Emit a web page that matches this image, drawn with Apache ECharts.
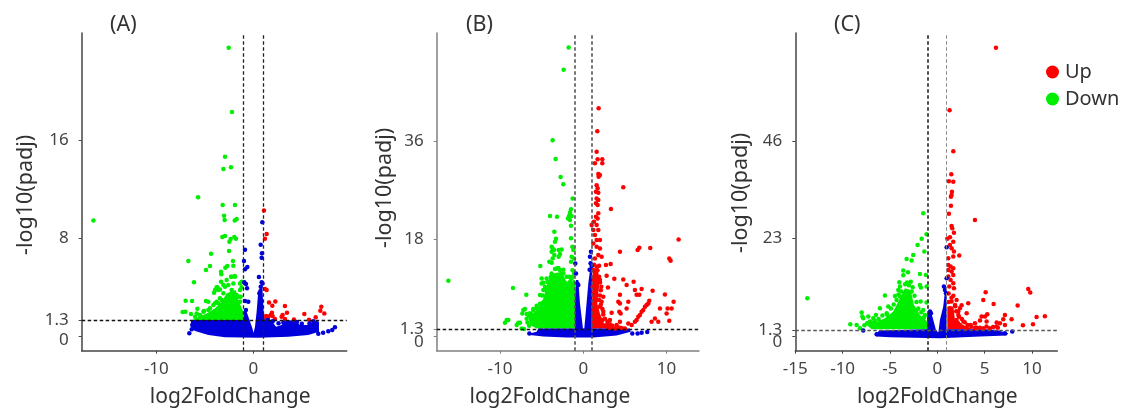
<!DOCTYPE html>
<html><head><meta charset="utf-8">
<script src="https://cdn.jsdelivr.net/npm/echarts@6/dist/echarts.min.js"></script>
<style>html,body{margin:0;padding:0;background:#fff}#c{width:1126px;height:408px}</style>
</head><body><div id="c"></div>
<script>
// ---- tick labels ----
const panelNames = ['(A)','(B)','(C)'];
const xTicksA = [-10,0];
const xTicksB = [-10,0,10];
const xTicksC = [-15,-10,-5,0,5,10];
const yTicksA = [8,0,1.3,16];
const yTicksB = [18,0,1.3,36];
const yTicksC = [23,0,1.3,46];
const foldCut = [-1,1];
const padjCut = 1.3;

// ---- panel A: single points ----
const downA = [[-2.54,23.57],[-2.2,18.31],[-2.92,14.66],[-2.3,13.79],[-3.09,13.65],[-5.7,11.34],[-3.16,10.71],[-1.89,10.71],[-3.02,9.84],[-2.96,9.48],[-1.72,9.56],[-1.92,9.45],[-16.49,9.45],[-3.2,8.09],[-2.92,8.17],[-1.96,8.09],[-1.79,7.96],[-2.34,7.93],[-2.47,7.71],[-2.51,6.95],[-4.36,6.73],[-6.7,6.13],[-2.1,6.13],[-4.47,5.72],[-4.88,5.4],[-2.68,5.72],[-2.89,5.59],[-2.06,5.75],[-3.33,5.26],[-3.3,5.04],[-2.3,4.85],[-1.92,4.9],[-6.12,4.39],[-6.98,2.89],[-6.32,2.86],[-7.29,1.96],[-7.01,1.99],[-6.43,1.8],[-5.77,2.23],[-5.84,1.85],[-6.01,1.58],[-4.88,2.86],[-4.64,2.81],[-5.09,2.04],[-3.71,3.98],[-3.95,3.76],[-3.61,3.76],[-4.05,3.54],[-3.33,4.44],[-3.09,4.17],[-1.2,4.44],[-1.2,3.98],[-2.23,4.85],[-2.75,4.58],[-1.72,3.35],[-1.31,3.22],[-3.44,3.08],[-3.78,2.81],[-4.47,2.26],[-4.12,2.53],[-3.61,2.67],[-2.58,4.17],[-2.06,4.3],[-1.89,4.85],[-3.78,3.98],[-3.44,3.81],[-2.92,4.03],[-1.37,3.76],[-1.37,4.3],[-2.23,3.76],[-3.09,3.49],[-3.26,2.94],[-3.95,2.67],[-4.64,2.13],[-5.15,1.99],[-5.5,1.72],[-1.55,3.22],[-1.37,2.81]];
const upA = [[1.1,10.27],[1.37,8.34],[1.2,7.96],[1.2,3.84],[1.37,3.76],[1.62,2.75],[2.27,2.83],[1.96,2.48],[3.26,2.45],[3.47,1.91],[3.02,1.72],[2.92,1.58],[7.01,2.4],[6.91,2.07],[7.32,1.85],[5.26,1.8],[6.43,1.53],[5.74,1.34],[4.19,1.36],[1.92,1.91],[1.79,1.72],[1.55,1.58],[1.31,1.63],[1.99,1.63],[2.23,1.39],[3.26,1.39],[1.37,1.44]];
const otherA = [[0.93,9.29],[0.76,7.47],[-0.86,7.06],[0.89,6.76],[0.86,6.4],[-0.96,6.13],[-0.62,5.64],[-0.86,5.45],[0.58,4.82],[-0.93,4.39],[-0.76,4.25],[0.86,4.39],[0.95,4.3],[-0.65,3.9],[0.76,4.03],[-0.86,2.86],[-0.52,2.81],[0.62,3.49],[-0.76,2.13],[6.7,0.19],[7.2,0.27],[7.73,0.38],[8.14,0.49],[8.42,0.71],[-6.6,0.22],[-6.35,0.55],[2,1.2],[2.6,1.05],[3.1,1.1],[4.5,1.15],[5,1],[5.8,1.05],[6.2,1.2],[1.5,1.3],[-6.2,1.1],[-6.3,0.9],[-5.9,0.6]];
// ---- panel A: outlines of the solid clouds ----
const downCloudA = [[-1.03,1.31],[-1.03,1.99],[-1.55,2.94],[-1.82,3.76],[-2.75,3.49],[-3.26,2.81],[-3.95,2.26],[-4.81,1.85],[-5.67,1.58],[-6.29,1.31]];
const otherCloudA = [[-6.43,1.31],[-1.03,1.31],[-0.96,2.13],[-0.69,1.99],[-0.45,1.44],[-0.1,0.63],[0.03,0.27],[0.17,0.76],[0.34,1.99],[0.52,3.76],[0.93,4.03],[1.07,1.85],[1.2,1.31],[1.89,1.25],[2.34,0.76],[2.92,0.9],[3.44,1.31],[4.3,1.25],[4.81,0.9],[5.5,0.9],[6.53,1.25],[6.77,1.17],[6.77,0.35],[5.67,0.08],[3.61,-0.05],[0.52,-0.14],[-2.92,-0.11],[-4.64,0.08],[-6.01,0.41],[-6.36,0.71]];
const upCloudA = [];

// ---- panel B ----
const downB = [[-1.76,53.4],[-2.36,49.32],[-3.68,36.23],[-3.32,32.78],[-2.72,29.44],[-2.4,28.09],[-1.28,25.49],[-1.48,23.46],[-1.6,22.9],[-1.72,22.22],[-1.84,21.79],[-1.6,21.48],[-1.4,22.22],[-4,22.22],[-3.16,22.1],[-1.48,20.43],[-3.48,19.32],[-1.48,18.09],[-3.28,18.02],[-3.4,17.47],[-3.8,16.54],[-3.68,16.23],[-3.8,15.6],[-3.52,15.93],[-2.96,15.93],[-2.6,16.05],[-2.8,15.19],[-2.96,14.69],[-1.32,16.54],[-1.2,15.93],[-1.4,14.69],[-1.12,14.38],[-1.48,13.77],[-3.48,15],[-3.68,14.38],[-4.08,13.77],[-3.8,13.58],[-5.16,12.96],[-5,10.68],[-4.8,9.88],[-5,9.75],[-16.2,10.25],[-8.44,8.89],[-6.84,7.65],[-9.2,2.96],[-9,2.96],[-9.4,2.47],[-7.8,2.47],[-7.6,2.47],[-8,2.04],[-7.4,1.42],[-7.12,1.3],[-7.2,4.81],[-7,5],[-7.32,4.2],[-6.48,4.2],[-6.2,3.89],[-6.8,4.07],[-5.2,7.59],[-4.8,8.52],[-5.6,5.12],[-5,6.05],[-6,4.81],[-4.4,10.68],[-4.6,9.14],[-3.2,12.53],[-2.8,12.22],[-2.4,11.6],[-3.8,11.6],[-2,10.99],[-1.4,10.68],[-2,9.75],[-1.2,9.14],[-3.9,11],[-3.4,12.4],[-3,12.6],[-2.4,12.3],[-4.3,10],[-4.5,8.5],[-4.9,7.5],[-5.2,6],[-5.6,5.6],[-6,5],[-6.3,4.2],[-6.6,3.9],[-6.8,3.2],[-6.7,2.5],[-6.5,1.9],[-2,9.5],[-2.1,8.8],[-1.9,8],[-1.6,10],[-1.5,10.7],[-1.3,11],[-1.7,11],[-1.1,11.7],[-1.3,12.2]];
const upB = [[1.84,42.16],[1.68,37.9],[1.6,34.14],[2.28,32.72],[2.28,31.98],[1.72,32.72],[1.4,31.98],[1.8,30],[2,29.81],[1.84,29.5],[4.8,27.53],[1.6,27.9],[1.72,27.35],[1.52,26.73],[1.8,26.54],[1.6,25.49],[1.8,25.19],[1.52,24.57],[1.72,24.26],[3.32,23.52],[1.8,22.72],[1.52,22.1],[1.72,21.79],[1.28,21.17],[1,20.56],[1.6,20.56],[1.2,19.63],[1.8,19.63],[1.4,18.7],[2,17.78],[1.6,17.78],[1.2,17.16],[2,16.23],[1.6,16.54],[4.4,15.6],[6.52,15.93],[6.72,16.36],[8.04,16.3],[11.44,17.9],[10.32,14.38],[10.48,13.95],[2.2,14.69],[1.8,15],[1.4,14.38],[2.72,13.15],[3.28,13.33],[1.6,12.84],[1.2,12.22],[1.6,10.99],[1.28,10.37],[1.12,9.14],[1.6,9.14],[1.2,7.9],[2.8,11.17],[3.72,10.62],[4.8,10.49],[6.04,10.06],[5.2,9.44],[2.96,9.01],[2.16,9.14],[2,10.37],[6.2,8.52],[7,8.7],[8.32,8.4],[6.4,7.65],[6.72,7.65],[4.4,7.65],[9.8,7.72],[10.84,6.36],[10.12,5.12],[10.6,5.12],[9.2,5.12],[10,4.2],[10.32,2.84],[8.6,3.27],[9,2.65],[8.2,2.65],[4.2,6.36],[4.4,6.05],[5.4,6.36],[2.4,7.28],[2.2,6.36],[1.6,6.67],[2,5.43],[1.6,4.81],[2.4,4.51],[3.4,4.32],[4.32,4.51],[4.48,4.2],[5.2,5.12],[3.2,2.96],[3,2.04],[4,2.04],[3.8,1.42],[4.4,2.65],[5.4,2.35],[5,1.42],[5.8,2.04],[6.2,2.65],[6.6,3.58],[7,4.51],[7.4,5.43],[7.8,6.05],[7.92,6.54],[6.4,2.96],[6.8,3.89],[7.2,4.81],[7.6,5.74],[1.3,11],[1.9,11],[2,9.9],[2.1,8.5],[2,7.5],[1.9,6.7],[2.1,5.8],[2.3,5],[2.4,4],[2.6,3.2],[2.9,2.7],[3.2,2.2],[3.5,1.9],[2.3,3],[1.4,12],[1.7,12.2],[1.9,13],[1.3,13.2],[2.7,2],[3,1.6],[4.3,1.6],[4.6,1.5],[3.3,1.5]];
const otherB = [[0.92,15.6],[0.8,14.7],[0.88,13.5],[1,12.96],[0.76,12.3],[-0.96,13.46],[-0.88,11.6],[-0.72,9.75],[-0.6,9.44],[5.88,0.49],[6.52,0.49],[7,0.62],[7.68,0.74],[-6.48,0.49]];
const downCloudB = [[-5.6,1.42],[-6.4,2.04],[-6.6,3.58],[-5.6,4.81],[-4.8,6.98],[-4.2,10.37],[-3.6,11.6],[-2.6,11.9],[-2,10],[-1.8,9.4],[-1.2,10.37],[-1,10.37],[-1,1.42]];
const otherCloudB = [[-6.48,0.49],[-5.6,0.8],[-5.4,1.42],[-1,1.42],[-1,6.67],[-0.88,10.37],[-0.6,10.37],[-0.4,6.05],[-0.04,1.42],[0.12,1.42],[0.32,4.81],[0.6,9.75],[0.88,13.15],[1.05,13.15],[1.05,7.9],[1,1.42],[5.6,1.42],[5.68,0.8],[4,0.12],[1.2,-0.25],[-2,-0.25],[-4.8,-0.06],[-6.4,0.19]];
const upCloudB = [[1,1.42],[1.12,12.22],[1.8,11.9],[1.92,9.75],[1.68,6.05],[2,4.2],[2.48,2.35],[3.8,1.42]];

// ---- panel C ----
const downC = [[-13.73,8.9],[-1.48,28.98],[-1.13,24.02],[-1.65,22.99],[-2.08,21.5],[-1.37,19.92],[-2.54,19.13],[-3.24,18.19],[-2.71,17.8],[-3.59,15.43],[-3.59,14.33],[-3.1,15.04],[-1.83,14.65],[-1.2,14.41],[-4.01,12.68],[-1.83,12.05],[-1.73,11.42],[-1.13,11.65],[-3.94,11.65],[-4.12,10.87],[-5.53,9.53],[-4.47,9.45],[-3.94,9.29],[-1.76,8.11],[-1.13,7.87],[-6.06,6.54],[-6.48,4.96],[-5.18,6.93],[-5.35,5.35],[-7.99,5.51],[-7.92,4.57],[-7.82,4.17],[-7.29,4.57],[-6.76,4.17],[-7.11,3.39],[-6.58,2.99],[-9.19,2.76],[-8.52,2.6],[-8.17,1.81],[-1.48,6.14],[-1.3,4.96],[-2.18,6.14],[-2.6,11.5],[-3,12],[-3.4,12.2],[-3.8,10.5],[-4.1,9.8],[-4.3,8.5],[-4.6,7.4],[-4.9,6.5],[-5.3,5],[-5.8,4.8],[-6.2,4],[-6.6,3.6],[-7,3.2],[-7.4,3],[-7.7,2.5],[-2.4,9.5],[-2.2,8],[-2,6.5],[-1.7,5.6],[-1.4,4.4],[-2.7,10.5],[-3.2,12.6],[-2.8,12.8]];
const upC = [[6.2,68.11],[1.3,53.31],[1.69,43.62],[1.48,38.19],[1.23,36.54],[1.69,36.46],[1.55,34.09],[1.51,33.31],[1.44,32.91],[1.44,30.79],[1.23,28.9],[3.98,27.4],[1.51,25.98],[1.58,25.43],[1.76,24.41],[1.34,23.31],[1.06,22.99],[1.69,22.28],[1.34,21.5],[1.51,20.71],[1.76,19.92],[2.32,18.98],[1.16,18.35],[1.69,18.74],[1.16,16.77],[1.41,16.38],[1.69,15.98],[1.16,15.59],[1.51,15.2],[1.69,14.41],[1.16,14.02],[1.41,13.23],[1.69,12.44],[1.27,11.65],[1.76,11.26],[9.61,11.1],[9.82,10.24],[5.11,10.31],[4.86,8.5],[8.49,7.17],[5.95,7.56],[3.27,7.72],[2.57,7.24],[2.39,6.54],[2.22,5.75],[3.1,5.35],[11.37,4.65],[10.49,4.49],[10.11,2.76],[9.05,2.52],[7.15,4.96],[6.97,3.94],[7.85,3.94],[6.62,2.99],[6.27,3.15],[7.15,2.6],[5.28,5.12],[5.04,4.57],[4.68,4.57],[4.51,3.62],[5.21,3.39],[3.98,2.99],[3.52,2.6],[2.75,3.39],[2.39,2.6],[2.04,3.78],[2.22,4.96],[1.34,3.78],[6.27,2.2],[5.56,1.81],[4.86,1.81],[3.98,1.81],[3.1,1.81],[2.04,8.5],[1.51,8.11],[1.87,7.32],[1.34,6.54],[1.2,8],[1.9,7],[2,5.8],[2.3,4.5],[2.6,4],[2.9,3.2],[3.2,2.6],[3.6,2.2],[4.1,2],[4.5,1.9],[1.5,9],[1.2,10],[1.7,9.5],[2.2,3],[5.2,2.2],[5.9,2.1],[6.4,1.9]];
const otherC = [[0.99,20.94],[0.99,13.62],[0.7,11.65],[0.81,10.87],[0.92,10.08],[-0.77,5.75],[-0.67,5.35],[-7.82,1.26],[7.92,1.02],[7.15,0.63],[-6.41,0.39]];
const downCloudC = [[-1.06,1.57],[-1.06,3.39],[-1.83,4.96],[-2.46,7.32],[-2.82,10.87],[-3.42,11.26],[-3.94,8.9],[-4.65,5.75],[-5.53,4.17],[-6.76,2.99],[-7.46,2.6],[-6.94,1.57]];
const otherCloudC = [[-6.58,0.24],[-6.13,1.26],[-1.06,1.57],[-1.06,4.96],[-0.7,5.98],[-0.42,3.78],[-0.14,1.42],[0.11,0.79],[0.28,3.78],[0.63,6.93],[0.85,11.26],[1,11.65],[0.99,1.57],[5.21,1.57],[6.27,1.42],[7.5,0.63],[7.32,0.08],[4.51,-0.16],[0.28,-0.55],[-5,-0.31],[-6.41,-0.16]];
const upCloudC = [[1.06,1.57],[1.06,6.93],[1.7,6.93],[1.87,3.78],[2.75,2.6],[3.8,1.57]];

const RED='#ff0000', GREEN='#00ee00', BLUE='#0000dc';
const FONT='"Noto Sans","Open Sans",sans-serif';

const panels = [
 {x0:81.7,x1:346.7,xMin:-17.7,xMax:9.63,yMin:-1.2,yMax:24.77,xTicks:xTicksA,yTicks:yTicksA,down:downA,up:upA,other:otherA,dc:downCloudA,uc:upCloudA,oc:otherCloudA,axis:'#444',namePadX:[0,0,0,32],namePadY:[0,6,0,0],gapY:45,pad0:8,
  vStyle:[{color:'#222',width:1.3},{color:'#222',width:1.3}],hStyle:{color:'#111',width:1.4}},
 {x0:436.7,x1:699,xMin:-17.6,xMax:13.89,yMin:-2.7,yMax:56.1,xTicks:xTicksB,yTicks:yTicksB,down:downB,up:upB,other:otherB,dc:downCloudB,uc:upCloudB,oc:otherCloudB,axis:'#808080',namePadX:[0,36,0,0],namePadY:[0,0,0,8],gapY:37,pad0:12,
  vStyle:[{color:'#555',width:1.6},{color:'#555',width:1.6}],hStyle:{color:'#111',width:1.4}},
 {x0:795.3,x1:1057.3,xMin:-15,xMax:12.68,yMin:-3.5,yMax:71.6,xTicks:xTicksC,yTicks:yTicksC,down:downC,up:upC,other:otherC,dc:downCloudC,uc:upCloudC,oc:otherCloudC,axis:'#444',namePadX:[0,0,0,22],namePadY:[0,2,0,0],gapY:43,pad0:12,
  vStyle:[{color:'#222',width:1.6},{color:'#888',width:1}],hStyle:{color:'#555',width:1.3}}
];
const titlePos=[{left:110,top:14},{left:466,top:14},{left:834,top:14}];

function cloud(points,color,i){
  return {type:'custom',name:'cloud',xAxisIndex:i,yAxisIndex:i,data:points,z:2,silent:true,clip:false,
    encode:{x:0,y:1},
    renderItem:function(p,api){
      if(p.dataIndex!==0) return null;
      return {type:'polygon',shape:{points:points.map(q=>api.coord(q))},style:{fill:color}};
    }};
}
const grid=[],xAxis=[],yAxis=[],series=[],title=[];
panels.forEach((p,i)=>{
  grid.push({left:p.x0,width:p.x1-p.x0,top:33,height:317.7,outerBoundsMode:'none'});
  const line={lineStyle:{color:p.axis,width:1.5}};
  const labelFont={color:'#444',fontSize:17,fontFamily:FONT};
  xAxis.push({type:'value',gridIndex:i,min:p.xMin,max:p.xMax,splitLine:{show:false},axisLine:Object.assign({onZero:false},line),
    axisTick:{length:3,lineStyle:{color:p.axis},customValues:p.xTicks},
    axisLabel:Object.assign({customValues:p.xTicks,margin:10,showMinLabel:true,showMaxLabel:true},labelFont),
    name:'log2FoldChange',nameLocation:'middle',nameGap:36,nameTextStyle:{color:'#333',fontSize:21,fontFamily:FONT,padding:p.namePadX}});
  yAxis.push({type:'value',gridIndex:i,min:p.yMin,max:p.yMax,splitLine:{show:false},axisLine:Object.assign({onZero:false},line),
    axisTick:{length:3,lineStyle:{color:p.axis},customValues:p.yTicks},
    axisLabel:Object.assign({customValues:p.yTicks,margin:13,showMinLabel:true,showMaxLabel:true,hideOverlap:false,
      formatter:v=>v===0?'{zero|0}':String(v),
      rich:{zero:Object.assign({padding:[p.pad0,0,0,0]},labelFont)}},labelFont),
    name:'-log10(padj)',nameLocation:'middle',nameGap:p.gapY,nameTextStyle:{color:'#333',fontSize:21.5,fontFamily:FONT,padding:p.namePadY}});
  title.push(Object.assign({text:panelNames[i],textStyle:{color:'#333',fontSize:21.5,fontWeight:'normal',fontFamily:FONT}},titlePos[i],{padding:0}));
  series.push(cloud(p.dc,GREEN,i));
  if(p.uc.length) series.push(cloud(p.uc,RED,i));
  series.push(cloud(p.oc,BLUE,i));
  const sc=(name,d,c)=>({type:'scatter',name,xAxisIndex:i,yAxisIndex:i,data:d,symbolSize:4.5,z:3,itemStyle:{color:c,opacity:1}});
  series.push(sc('Down',p.down,GREEN));
  series.push(sc('Up',p.up,RED));
  const o=sc('Other',p.other,BLUE);
  o.markLine={silent:true,symbol:'none',label:{show:false},animation:false,z:5,
    data:[{xAxis:foldCut[0],lineStyle:Object.assign({type:[3.5,2.5]},p.vStyle[0])},
          {xAxis:foldCut[1],lineStyle:Object.assign({type:[3.5,2.5]},p.vStyle[1])},
          {yAxis:padjCut,lineStyle:Object.assign({type:[3.5,2.5]},p.hStyle)}]};
  series.push(o);
});
const chart=echarts.init(document.getElementById('c'),null,{renderer:'canvas'});
chart.setOption({
  animation:false,backgroundColor:'#fff',grid,xAxis,yAxis,series,title,
  legend:{orient:'vertical',left:1041,top:57,itemWidth:13,itemHeight:13,itemGap:7,selectedMode:false,
    data:[{name:'Up',icon:'circle'},{name:'Down',icon:'circle'}],
    textStyle:{color:'#333',fontSize:20,fontFamily:FONT,padding:[0,0,0,1]}}
});
</script></body></html>
